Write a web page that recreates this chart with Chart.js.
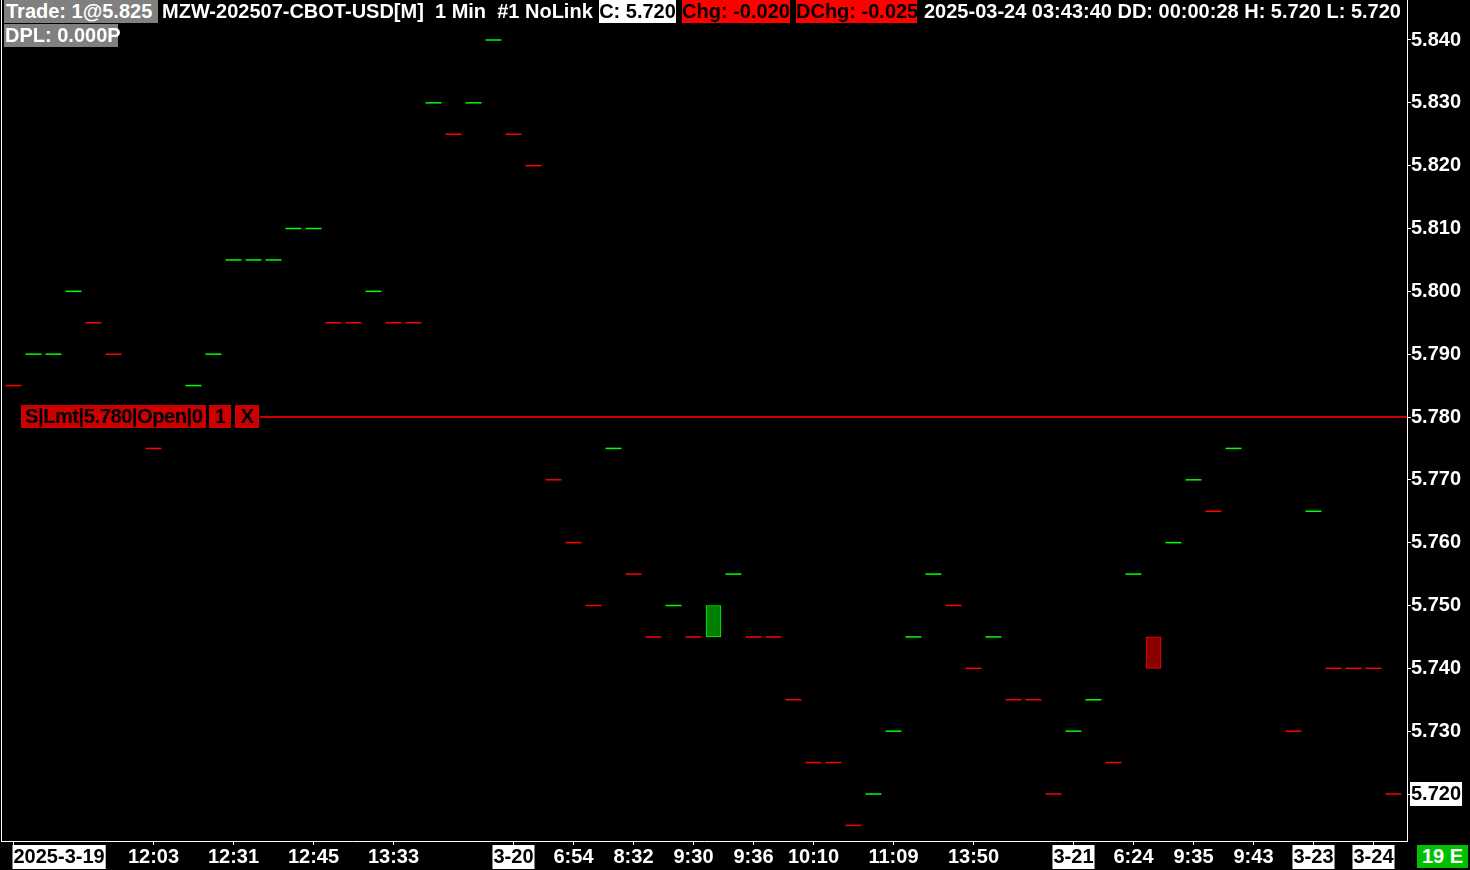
<!DOCTYPE html>
<html><head><meta charset="utf-8">
<script src="https://cdn.jsdelivr.net/npm/chart.js@4.4.1/dist/chart.umd.min.js"></script>
<style>
html,body{margin:0;padding:0;background:#000;overflow:hidden}
#wrap{position:relative;width:1470px;height:870px;background:#000}
canvas{position:absolute;left:0;top:0}
.t{position:absolute;font:bold 20px "Liberation Sans",Arial,sans-serif;line-height:23px;height:23px;white-space:pre;color:#fff;box-sizing:border-box}
.box{text-align:center}
</style></head><body>
<div id="wrap">
<canvas id="c" width="1470" height="870"></canvas>
<div class="t" style="left:4px;top:0;width:154px;background:#808080;padding-left:2px">Trade: 1@5.825</div>
<div class="t" style="left:162px;top:0">MZW-202507-CBOT-USD[M]  1 Min  #1 NoLink</div>
<div class="t box" style="left:599px;top:0;width:77px;background:#fff;color:#000">C: 5.720</div>
<div class="t box" style="left:682px;top:0;width:108px;background:#ff0000;color:#000">Chg: -0.020</div>
<div class="t box" style="left:796px;top:0;width:121px;background:#ff0000;color:#000">DChg: -0.025</div>
<div class="t" style="left:924px;top:0">2025-03-24 03:43:40 DD: 00:00:28 H: 5.720 L: 5.720</div>
<div class="t" style="left:4px;top:24px;width:114px;background:#808080;padding-left:1px">DPL: 0.000P</div>
<div class="t box" style="left:21px;top:405px;width:185px;background:#cc0000;color:#000;letter-spacing:-0.4px">S|Lmt|5.780|Open|0</div>
<div class="t box" style="left:209px;top:405px;width:22px;background:#cc0000;color:#000">1</div>
<div class="t box" style="left:235px;top:405px;width:24px;background:#cc0000;color:#000">X</div>
<div class="t box" style="left:1417px;top:845px;width:51px;background:#00c000;color:#fff">19 E</div>
</div>
<script>
// ---- data ----
const opens  = [5.785,5.790,5.790,5.800,5.795,5.790,5.780,5.775,5.780,5.785,
                5.790,5.805,5.805,5.805,5.810,5.810,5.795,5.795,5.800,5.795,
                5.795,5.830,5.825,5.830,5.840,5.825,5.820,5.770,5.760,5.750,
                5.775,5.755,5.745,5.750,5.745,5.745,5.755,5.745,5.745,5.735,
                5.725,5.725,5.715,5.720,5.730,5.745,5.755,5.750,5.740,5.745,
                5.735,5.735,5.720,5.730,5.735,5.725,5.755,5.745,5.760,5.770,
                5.765,5.775,5.780,5.780,5.730,5.765,5.740,5.740,5.740,5.720];
const closes = [5.785,5.790,5.790,5.800,5.795,5.790,5.780,5.775,5.780,5.785,
                5.790,5.805,5.805,5.805,5.810,5.810,5.795,5.795,5.800,5.795,
                5.795,5.830,5.825,5.830,5.840,5.825,5.820,5.770,5.760,5.750,
                5.775,5.755,5.745,5.750,5.745,5.750,5.755,5.745,5.745,5.735,
                5.725,5.725,5.715,5.720,5.730,5.745,5.755,5.750,5.740,5.745,
                5.735,5.735,5.720,5.730,5.735,5.725,5.755,5.740,5.760,5.770,
                5.765,5.775,5.780,5.780,5.730,5.765,5.740,5.740,5.740,5.720];
const xTickIndex  = [0,7,11,15,19,25,28,31,34,37,40,44,48,53,56,59,62,65,68];
const xTickLabels = ['2025-3-19','12:03','12:31','12:45','13:33','3-20','6:54','8:32','9:30','9:36',
                     '10:10','11:09','13:50','3-21','6:24','9:35','9:43','3-23','3-24'];
const yTicks = [5.720,5.730,5.740,5.750,5.760,5.770,5.780,5.790,5.800,5.810,5.820,5.830,5.840];
const lastPrice = 5.720;
const orderPrice = 5.780;

// ---- build datasets ----
const UP = '#00ff00', DOWN = '#ff0000';
const dashPts = [], dashCols = [], candlePts = [], candleFill = [], candleLine = [];
let dir = DOWN;
closes.forEach((c, i) => {
  if (i > 0) { if (c > closes[i-1]) dir = UP; else if (c < closes[i-1]) dir = DOWN; }
  if (opens[i] === c) { dashPts.push({x: i, y: c}); dashCols.push(dir); }
  else {
    const up = c > opens[i];
    candlePts.push({x: i, y: [opens[i], c]});
    candleFill.push(up ? '#008000' : '#880000');
    candleLine.push(up ? UP : DOWN);
  }
});
const isDateIdx = i => i < xTickLabels.length && xTickLabels[i].indexOf('-') >= 0;
const noPad = s => { s.paddingTop = 0; s.paddingBottom = 0; s.paddingLeft = 0; s.paddingRight = 0; };

Chart.defaults.font.family = '"Liberation Sans", Arial, sans-serif';
Chart.defaults.font.size = 20;
Chart.defaults.font.weight = 'bold';

new Chart(document.getElementById('c'), {
  type: 'bar',
  data: {
    datasets: [
      { type: 'line', order: 0, data: [{x: 12.325, y: orderPrice}, {x: 69.675, y: orderPrice}],
        borderColor: '#cc0000', borderWidth: 2, pointRadius: 0, xAxisID: 'x', yAxisID: 'y' },
      { type: 'scatter', order: 1, data: dashPts, pointStyle: 'line', pointRadius: 8,
        pointBorderWidth: 1.5, pointBorderColor: dashCols, pointBackgroundColor: dashCols,
        xAxisID: 'x', yAxisID: 'y' },
      { type: 'bar', order: 2, data: candlePts, backgroundColor: candleFill, borderColor: candleLine,
        borderWidth: 1, borderSkipped: false, barThickness: 15, xAxisID: 'x', yAxisID: 'y' }
    ]
  },
  options: {
    responsive: false, animation: false, events: [], devicePixelRatio: 1,
    layout: { padding: 0, autoPadding: false },
    plugins: { legend: { display: false }, tooltip: { enabled: false } },
    scales: {
      x: {
        type: 'linear', position: 'bottom', min: -0.625, max: 69.675, bounds: 'data', offset: false,
        afterBuildTicks: s => { s.ticks = xTickIndex.map(v => ({value: v})).concat([{value: 69.675}]); },
        afterFit: s => { s.height = 29; noPad(s); },
        ticks: {
          autoSkip: false, maxRotation: 0, minRotation: 0, align: 'inner', padding: 0,
          font: { size: 20, weight: 'bold' },
          color: ctx => isDateIdx(ctx.index) ? '#000' : '#fff',
          showLabelBackdrop: ctx => isDateIdx(ctx.index),
          backdropColor: '#ffffff',
          backdropPadding: { top: 0, bottom: 0, left: 1, right: 1 },
          callback: (v, i) => i < xTickLabels.length ? xTickLabels[i] : ''
        },
        grid: { offset: false, drawOnChartArea: false, drawTicks: true, tickLength: 4,
                color: ctx => ctx.index < xTickIndex.length ? '#ffffff' : 'rgba(0,0,0,0)' },
        border: { display: true, color: '#ffffff', width: 1 }
      },
      y: {
        type: 'linear', position: 'right', min: 5.712520, max: 5.846366, bounds: 'data',
        afterBuildTicks: s => { s.ticks = yTicks.map(v => ({value: v})); },
        afterFit: s => { s.width = 63; noPad(s); },
        ticks: {
          padding: 0, font: { size: 20, weight: 'bold' },
          color: ctx => Math.abs(ctx.tick.value - lastPrice) < 1e-6 ? '#000' : '#fff',
          showLabelBackdrop: ctx => Math.abs(ctx.tick.value - lastPrice) < 1e-6,
          backdropColor: '#ffffff',
          backdropPadding: { top: 0, bottom: 0, left: 1, right: 1 },
          callback: v => Number(v).toFixed(3)
        },
        grid: { drawOnChartArea: false, drawTicks: true, tickLength: 4, color: '#ffffff' },
        border: { display: true, color: '#ffffff', width: 1 }
      },
      yl: {
        type: 'linear', position: 'left', display: true,
        ticks: { display: false },
        grid: { display: false, drawTicks: false },
        border: { display: true, color: '#ffffff', width: 1 },
        afterFit: s => { s.width = 1; noPad(s); }
      }
    }
  }
});
</script>
</body></html>
